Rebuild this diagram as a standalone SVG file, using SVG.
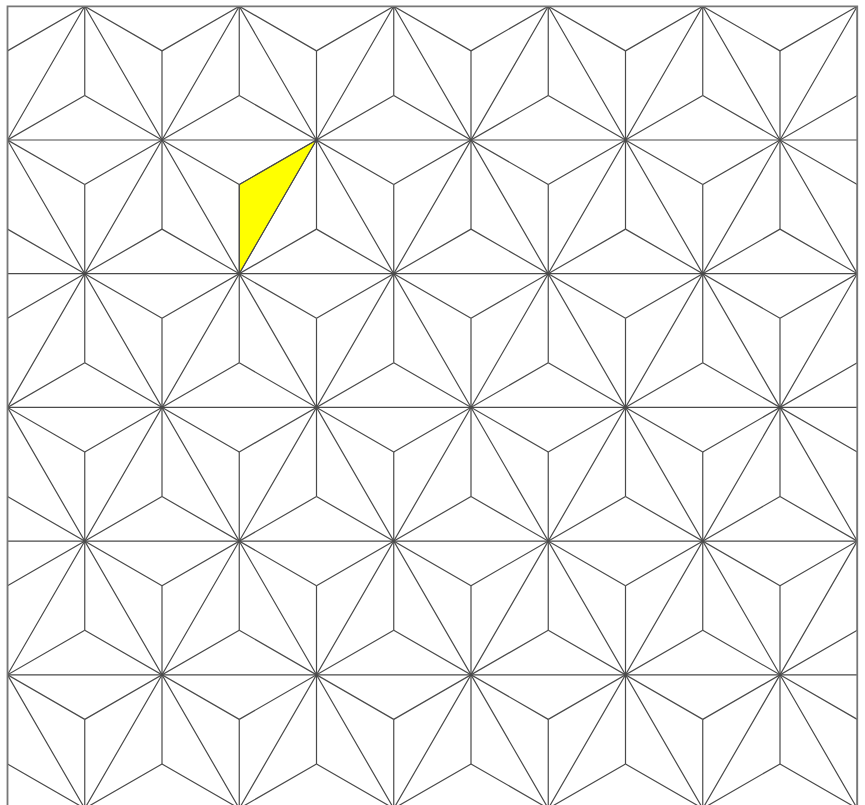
<svg xmlns="http://www.w3.org/2000/svg" xmlns:xlink="http://www.w3.org/1999/xlink" width="865" height="805" viewBox="0 0 865 805">
<style>
.ln{stroke:#4a4a4a;stroke-width:1.2;fill:none}
.frame{stroke:#777;stroke-width:1.8;fill:none}
</style>
<defs>
<clipPath id="clip"><rect x="7.5" y="6.3" width="849.75" height="800"/></clipPath>
<path id="star" class="ln" d="M-77.25,-44.57L77.25,44.57M77.25,-44.57L-77.25,44.57M0,-89.13L0,89.13"/>
</defs>
<rect x="0" y="0" width="865" height="805" fill="#fff"/>
<polygon points="316.5,140 239.25,184.57 239.25,273.7" fill="#ffff00" stroke="#4a4a4a" stroke-width="1"/>
<g clip-path="url(#clip)">
<g id="horizontals" class="ln">
<path d="M7.5,6.3H857.25M7.5,140H857.25M7.5,273.7H857.25M7.5,407.4H857.25M7.5,541.1H857.25M7.5,674.8H857.25"/>
</g>
<g id="diagonals" class="ln">
<path d="M-378.75,6.3L84.75,808.5M-224.25,6.3L239.25,808.5M-69.75,6.3L393.75,808.5M84.75,6.3L548.25,808.5M239.25,6.3L702.75,808.5M393.75,6.3L857.25,808.5M548.25,6.3L1011.75,808.5M702.75,6.3L1166.25,808.5M857.25,6.3L1320.75,808.5"/>
<path d="M84.75,6.3L-378.75,808.5M239.25,6.3L-224.25,808.5M393.75,6.3L-69.75,808.5M548.25,6.3L84.75,808.5M702.75,6.3L239.25,808.5M857.25,6.3L393.75,808.5M1011.75,6.3L548.25,808.5M1166.25,6.3L702.75,808.5M1320.75,6.3L857.25,808.5"/>
</g>
<g id="stars">
<use href="#star" x="84.75" y="6.3"/><use href="#star" x="239.25" y="6.3"/><use href="#star" x="393.75" y="6.3"/><use href="#star" x="548.25" y="6.3"/><use href="#star" x="702.75" y="6.3"/><use href="#star" x="857.25" y="6.3"/>
<use href="#star" x="7.5" y="140"/><use href="#star" x="162" y="140"/><use href="#star" x="316.5" y="140"/><use href="#star" x="471" y="140"/><use href="#star" x="625.5" y="140"/><use href="#star" x="780" y="140"/>
<use href="#star" x="84.75" y="273.7"/><use href="#star" x="239.25" y="273.7"/><use href="#star" x="393.75" y="273.7"/><use href="#star" x="548.25" y="273.7"/><use href="#star" x="702.75" y="273.7"/><use href="#star" x="857.25" y="273.7"/>
<use href="#star" x="7.5" y="407.4"/><use href="#star" x="162" y="407.4"/><use href="#star" x="316.5" y="407.4"/><use href="#star" x="471" y="407.4"/><use href="#star" x="625.5" y="407.4"/><use href="#star" x="780" y="407.4"/>
<use href="#star" x="84.75" y="541.1"/><use href="#star" x="239.25" y="541.1"/><use href="#star" x="393.75" y="541.1"/><use href="#star" x="548.25" y="541.1"/><use href="#star" x="702.75" y="541.1"/><use href="#star" x="857.25" y="541.1"/>
<use href="#star" x="7.5" y="674.8"/><use href="#star" x="162" y="674.8"/><use href="#star" x="316.5" y="674.8"/><use href="#star" x="471" y="674.8"/><use href="#star" x="625.5" y="674.8"/><use href="#star" x="780" y="674.8"/>
<use href="#star" x="84.75" y="808.5"/><use href="#star" x="239.25" y="808.5"/><use href="#star" x="393.75" y="808.5"/><use href="#star" x="548.25" y="808.5"/><use href="#star" x="702.75" y="808.5"/><use href="#star" x="857.25" y="808.5"/>
</g>
</g>
<path class="frame" d="M7.5,810V6.3H857.25V810"/>
</svg>
